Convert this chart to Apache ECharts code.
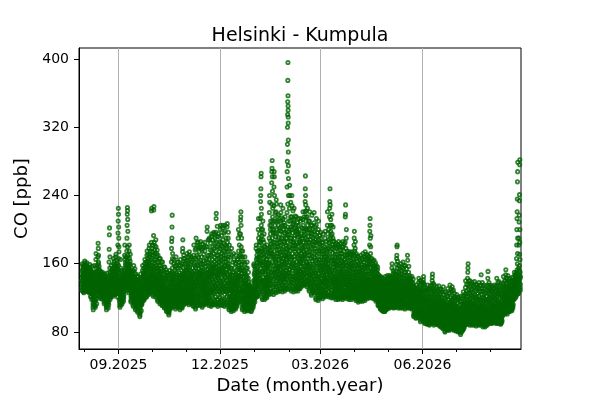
<!DOCTYPE html>
<html>
<head>
<meta charset="utf-8">
<script src="https://cdn.jsdelivr.net/npm/echarts@6/dist/echarts.min.js"></script>
<style>html,body{margin:0;padding:0;background:#fff}#chart{width:600px;height:400px}</style>
</head>
<body>
<div id="chart"></div>
<script>
// CO readings, one block of values every two days starting 30.07.2025
var DAY = 86400000;
var sampleStart = new Date(2025, 6, 30).getTime();
var sampleStepDays = 2;
var coSamples = [
  "140 132 151 160 145 128 137 155 148 134 143 126 157",
  "146 135 129 158 163 142 131 150 139 133 147 137 154",
  "138 130 147 156 161 144 133 152 127 141 135 149 131",
  "134 128 142 155 150 139 126 147 159 131 145 137 152",
  "131 122 140 152 145 127 118 136 157 124 133 143 148",
  "125 112 106 119 138 150 143 130 158 116 133 146 122",
  "118 109 132 148 165 172 155 140 127 113 136 151 123",
  "136 129 150 168 184 178 162 145 131 141 157 134 147",
  "128 121 140 152 146 133 124 149 138 119 135 143 130",
  "125 119 134 146 150 139 129 122 143 131 137 127 141",
  "120 113 131 144 148 137 117 126 141 123 134 129 139",
  "116 106 110 128 142 149 135 122 113 119 131 108 126",
  "124 112 138 162 177 194 202 150 131 118 127 143 121 135",
  "130 121 145 158 152 138 126 147 135 124 141 133 150",
  "134 122 150 166 160 143 128 155 140 125 137 147 131",
  "138 124 155 168 171 149 131 160 145 127 141 152 134",
  "140 126 160 182 196 210 225 218 203 190 174 150 118 133 144 129 137",
  "132 115 109 125 148 165 155 138 121 112 128 142 118 135",
  "126 113 135 150 144 130 118 141 122 116 129 137 124",
  "138 128 152 170 182 165 147 133 158 131 143 136 149",
  "145 135 160 175 190 205 218 226 222 212 198 170 152 139 148 142 157",
  "140 126 155 175 182 166 148 132 160 129 137 144 151",
  "128 115 138 152 145 133 120 148 124 118 131 141 126",
  "122 110 134 152 158 140 126 116 145 113 129 137 120",
  "118 106 128 142 148 135 115 124 138 109 121 131 112",
  "114 103 125 140 145 130 110 120 136 107 117 128 122",
  "110 98 102 122 140 148 132 116 127 105 113 119 124",
  "125 114 138 152 158 143 129 119 148 117 133 122 136",
  "130 118 145 160 165 150 136 124 155 121 139 127 142",
  "135 121 152 170 175 160 141 128 163 125 146 132 138",
  "140 124 160 178 182 168 150 132 171 128 144 137 153",
  "145 126 165 185 222 225 178 155 134 170 129 141 149 138",
  "150 122 170 193 223 227 185 160 135 176 127 143 154 139",
  "145 121 165 188 180 158 136 128 172 124 140 133 151",
  "138 116 155 170 162 147 126 121 150 119 132 143 129",
  "132 113 148 166 158 140 122 118 145 116 127 136 124",
  "128 111 144 162 152 136 119 115 140 113 124 132 121",
  "122 108 134 156 150 130 115 112 140 110 119 127 125",
  "118 104 128 150 145 126 110 106 136 108 114 121 131",
  "115 100 103 122 146 152 132 112 126 107 119 109 137",
  "125 110 140 162 178 186 190 203 217 150 130 116 121 135 144",
  "124 110 142 160 165 148 130 116 137 113 127 120 134",
  "120 107 138 158 168 150 128 113 144 110 124 132 117",
  "126 109 140 162 155 134 117 112 146 114 122 130 137",
  "122 106 136 158 165 146 128 114 140 109 118 125 132",
  "128 108 145 174 178 188 160 135 118 150 112 124 139 131",
  "130 113 148 166 160 140 122 118 152 116 127 135 143",
  "135 114 152 172 164 145 126 120 158 117 131 139 124",
  "132 112 150 170 174 156 138 121 146 115 127 142 134",
  "128 113 146 168 162 150 134 118 140 116 124 131 137",
  "125 110 148 170 182 160 136 115 142 112 121 130 139",
  "130 107 155 178 190 165 140 118 148 111 124 134 143",
  "134 112 158 180 185 168 145 122 150 116 128 139 147",
  "135 111 160 180 186 164 142 124 152 115 129 138 146",
  "132 109 155 178 183 160 140 120 148 113 126 136 144",
  "138 112 160 185 175 152 128 118 146 115 124 133 142",
  "140 113 165 198 203 180 150 125 158 117 131 136 146",
  "142 111 165 188 190 170 148 125 155 116 130 137 153",
  "145 110 170 192 195 175 150 126 160 114 133 139 156",
  "148 112 172 195 197 178 155 128 162 117 135 142 151",
  "150 112 175 197 213 219 185 160 130 165 118 137 144 153",
  "146 110 170 192 195 180 158 128 162 115 134 140 151",
  "150 112 178 200 205 185 160 130 168 117 136 143 155",
  "152 111 180 202 205 188 162 132 170 116 138 146 157",
  "148 110 175 198 205 182 158 128 166 115 134 141 153",
  "150 112 180 203 207 185 160 130 168 118 137 144 155",
  "135 106 160 182 175 150 122 112 145 109 128 139 117",
  "130 104 155 178 170 146 120 110 140 107 125 134 116",
  "126 105 150 172 165 140 116 108 136 111 121 131 145",
  "128 107 148 170 160 138 118 112 140 110 123 133 144",
  "138 114 165 190 200 175 150 125 158 119 131 143 153",
  "145 116 170 195 211 215 221 205 180 155 128 121 137 149 162",
  "132 106 155 175 168 145 120 110 140 113 126 136 148",
  "128 104 150 168 160 140 118 108 135 111 123 131 144",
  "124 105 145 162 155 135 114 108 130 111 119 127 139",
  "118 105 128 135 126 112 108 122 131 115 110 124 119",
  "115 104 125 134 128 110 107 120 132 113 118 123 109",
  "125 112 140 158 160 148 130 118 150 115 128 135 143",
  "138 120 158 178 182 165 145 125 170 122 134 150 141",
  "150 122 175 200 213 190 165 135 182 127 143 158 170",
  "160 125 185 213 233 240 248 262 266 225 200 170 140 132 150 178 193",
  "150 118 175 200 210 188 162 132 180 124 141 155 168",
  "138 118 160 180 174 155 130 122 150 126 134 144 165",
  "142 120 165 182 176 158 134 125 155 129 137 148 169",
  "160 124 190 220 240 232 205 175 140 200 131 150 168 183",
  "175 125 205 230 255 268 272 281 262 245 215 185 140 133 157 167 196",
  "170 124 200 228 250 268 262 240 210 180 145 133 154 163 192",
  "165 126 195 221 235 230 210 180 140 133 152 172 188",
  "155 127 180 205 217 210 190 165 140 134 148 172 195",
  "158 128 185 210 229 220 198 170 142 135 150 163 177",
  "162 127 190 212 225 205 180 150 138 132 145 170 196",
  "160 128 185 205 215 195 170 145 135 131 152 165 178",
  "165 130 190 220 250 268 280 300 320 335 350 375 396 357 345 340 332 325 305 291 275 260 240 210 180 150 138 158 172 198",
  "170 130 195 225 252 240 210 180 145 136 157 186 203",
  "165 128 190 215 240 228 200 172 142 134 152 181 207",
  "160 127 185 210 225 212 190 165 140 133 150 174 198",
  "158 128 182 205 215 200 178 150 138 132 145 168 191",
  "155 128 180 205 213 195 170 145 136 131 151 163 187",
  "160 131 185 210 213 195 172 148 140 135 154 166 178",
  "165 134 190 212 221 205 180 150 142 138 157 171 198",
  "170 135 195 221 233 248 263 240 229 210 185 155 145 139 162 176 201",
  "162 133 188 215 225 205 180 150 140 137 157 170 196",
  "158 128 185 210 221 200 175 145 135 132 152 166 192",
  "150 123 178 205 217 195 168 138 130 127 146 160 186",
  "155 126 182 208 220 198 172 142 134 130 149 164 189",
  "150 118 178 205 213 192 165 135 128 123 143 158 184",
  "145 117 172 200 210 188 160 132 125 121 139 153 180",
  "140 120 165 190 197 178 152 128 158 124 134 146 171",
  "138 119 160 185 195 175 150 126 155 123 132 144 168",
  "142 121 165 190 198 180 155 130 160 125 136 148 172",
  "148 122 175 205 221 195 165 135 160 127 141 153 184",
  "155 121 185 215 225 233 248 229 205 175 140 126 147 163 193",
  "150 120 178 205 218 195 168 135 160 125 142 156 187",
  "140 120 165 186 180 160 138 125 152 129 133 146 171",
  "138 118 160 184 178 155 135 122 150 127 131 144 167",
  "135 118 158 182 186 165 142 124 150 128 131 146 172",
  "136 119 160 184 176 152 132 121 148 126 141 157 168",
  "138 118 162 186 180 158 136 123 150 127 133 145 170",
  "140 120 165 185 215 218 229 178 150 128 124 134 145 158",
  "136 119 158 175 170 150 130 122 145 125 133 141 163",
  "134 118 155 174 168 148 128 121 142 124 131 139 160",
  "135 118 156 174 170 150 130 122 144 126 133 140 162",
  "140 120 165 182 190 198 175 150 128 124 135 144 158",
  "132 117 152 172 166 146 126 120 140 123 129 137 158",
  "128 115 148 168 160 140 122 118 136 120 126 133 154",
  "130 116 150 170 162 142 124 119 138 121 127 135 156",
  "132 116 152 172 165 145 126 120 140 122 129 137 158",
  "134 117 155 174 168 148 128 121 142 124 131 139 160",
  "135 119 155 170 166 148 128 122 142 125 132 139 160",
  "140 120 160 182 198 205 213 190 166 145 128 124 134 152",
  "132 120 150 166 160 142 126 122 138 124 129 135 155",
  "130 119 148 164 158 140 125 121 136 123 128 133 153",
  "128 116 145 158 150 136 122 118 140 120 126 132 148",
  "125 112 138 147 144 130 116 110 134 114 120 127 141",
  "122 108 134 145 140 126 112 106 130 110 116 124 137",
  "118 105 130 143 138 124 110 104 128 107 113 121 134",
  "120 104 132 145 140 126 110 106 130 108 114 123 136",
  "122 107 135 146 142 128 113 108 132 110 117 125 138",
  "124 108 136 146 140 128 114 110 132 112 118 126 139",
  "126 109 140 155 160 145 130 112 120 115 123 133 137",
  "124 108 136 150 144 130 115 110 132 112 119 127 140",
  "128 109 140 151 159 166 170 180 182 145 120 113 124 133 137",
  "126 108 140 158 150 134 116 112 145 114 120 129 137",
  "124 108 138 160 152 132 115 110 144 113 119 127 135",
  "125 108 140 162 155 135 116 111 146 113 120 129 137",
  "122 107 136 158 150 130 114 110 142 112 118 126 133",
  "126 108 140 170 164 145 128 112 135 114 120 131 138",
  "120 108 132 146 140 126 114 110 136 112 117 123 129",
  "118 107 130 145 138 124 112 109 134 111 115 121 127",
  "110 98 118 133 128 115 102 100 122 104 107 113 120",
  "108 96 116 131 135 120 104 99 125 101 106 112 118",
  "112 97 122 138 143 128 106 100 130 103 109 116 125",
  "110 92 120 136 140 124 104 96 128 99 102 107 115",
  "108 93 120 135 138 141 145 126 100 115 97 104 111 118",
  "105 90 116 128 131 120 98 94 122 96 101 109 113",
  "104 89 115 128 135 122 96 92 118 94 100 108 111",
  "106 88 116 130 134 120 98 92 124 95 102 110 113",
  "108 90 120 135 140 144 148 128 100 95 93 104 112 117",
  "104 88 115 128 135 122 96 92 118 94 100 108 111",
  "102 89 112 126 133 120 95 91 116 93 98 106 109",
  "104 88 114 128 134 121 96 90 118 93 100 107 110",
  "102 86 112 125 130 118 94 89 116 91 97 105 108",
  "98 84 110 124 133 116 92 86 112 88 95 103 106",
  "95 80 106 120 127 112 88 83 108 85 91 99 102",
  "96 82 108 122 131 114 90 84 110 87 93 100 104",
  "98 82 110 126 135 116 90 85 112 87 94 102 106",
  "100 84 112 128 133 118 92 86 114 89 96 104 108",
  "96 82 106 120 125 112 88 84 108 86 92 99 102",
  "95 81 105 118 124 110 87 83 106 85 91 98 101",
  "94 80 104 121 118 108 86 82 105 84 90 97 100",
  "92 77 102 116 122 106 84 80 104 82 88 95 98",
  "96 82 108 122 127 112 88 84 110 86 92 100 104",
  "102 88 115 132 140 125 96 90 118 92 99 106 110",
  "108 89 122 143 150 155 160 135 110 95 92 101 114 118",
  "104 88 116 133 140 126 98 92 120 94 101 108 112",
  "100 88 112 130 138 122 95 90 116 92 98 105 108",
  "102 88 114 132 139 124 96 91 118 93 99 106 110",
  "100 87 112 130 136 120 94 90 115 92 97 104 108",
  "101 88 113 131 138 122 95 90 117 92 98 106 109",
  "104 88 116 135 147 128 98 92 120 94 101 108 112",
  "100 86 112 128 135 120 94 89 116 91 97 104 108",
  "98 86 110 126 134 118 92 88 114 90 95 102 106",
  "104 88 118 135 143 151 126 96 92 100 108 112 121",
  "102 90 115 130 135 124 96 92 118 94 99 107 110",
  "100 90 113 128 134 122 95 92 116 93 98 105 109",
  "103 91 116 131 135 124 97 93 119 95 100 108 111",
  "104 90 118 134 143 128 98 93 122 95 101 109 113",
  "102 90 116 132 139 126 96 92 120 94 99 107 111",
  "100 89 114 130 137 124 95 91 118 93 98 106 110",
  "108 100 120 136 145 130 105 102 124 103 111 116 127",
  "110 101 124 140 147 153 132 106 118 104 113 121 128",
  "112 101 125 140 146 132 106 104 120 108 115 118 128",
  "114 104 126 138 143 132 108 106 122 110 117 120 129",
  "116 105 128 140 144 134 110 108 124 112 119 122 131",
  "128 118 138 150 146 134 122 125 142 120 131 136 140",
  "135 122 150 166 182 200 213 221 236 256 268 279 145 128 125 139 142",
  "140 125 155 182 190 209 217 234 241 276 282 165 150 132 129 136 145"
];

// second set of readings for the same two-day blocks
var coSamples2 = [
  "129 136 141 146 153 158 133 139 150 144 127 147",
  "132 138 144 149 156 161 136 141 152 134 145 159",
  "129 134 139 143 150 157 132 137 146 154 142 136",
  "127 133 138 144 149 156 130 136 141 148 153 140",
  "121 126 130 135 141 146 150 125 132 139 144 129",
  "109 114 118 124 128 135 141 148 111 121 127 132",
  "111 116 121 126 131 138 144 150 158 119 129 135",
  "131 137 142 149 155 160 170 133 139 144 152 138",
  "122 126 131 136 141 145 150 125 129 134 139 144",
  "121 124 128 133 136 140 145 148 126 131 135 138",
  "115 119 122 127 133 136 140 145 121 125 130 135",
  "109 112 115 120 124 129 133 138 145 117 123 127",
  "115 120 126 129 134 140 146 155 168 123 132 137",
  "123 128 131 136 140 143 149 154 127 132 137 145",
  "124 129 133 138 142 146 152 158 163 127 135 139",
  "126 130 135 139 143 147 151 157 164 129 137 142",
  "121 127 131 135 141 146 153 158 166 180 125 139",
  "111 114 119 123 127 131 136 140 146 152 117 125",
  "115 119 121 125 128 133 136 139 143 147 120 127",
  "130 134 138 141 145 150 155 161 168 132 139 147",
  "137 141 145 150 155 163 167 180 138 146 153 160",
  "128 131 135 139 142 147 153 158 163 171 133 145",
  "117 121 123 127 130 135 137 143 146 150 119 129",
  "112 115 118 122 124 131 135 139 143 149 154 127",
  "108 111 114 117 119 123 126 130 133 137 141 145",
  "105 109 112 115 119 124 127 132 134 139 142 116",
  "100 104 108 111 115 118 121 126 130 135 144 112",
  "116 119 121 124 127 131 135 140 145 150 155 128",
  "120 123 126 129 133 138 141 147 152 157 162 131",
  "123 126 130 134 137 143 149 155 158 166 171 140",
  "126 130 134 139 142 146 155 158 164 175 135 148",
  "128 131 136 140 144 147 152 158 162 174 182 135",
  "124 129 133 137 141 147 152 157 165 172 181 145",
  "123 126 130 135 138 143 147 154 162 168 176 131",
  "118 123 125 128 134 137 140 145 152 158 166 130",
  "115 119 121 126 129 133 138 143 150 154 162 125",
  "112 117 120 123 127 130 134 138 143 148 156 125",
  "109 113 117 121 123 129 132 137 143 146 153 116",
  "105 109 112 116 119 123 129 133 139 142 147 111",
  "102 105 111 114 117 121 124 129 135 141 149 108",
  "112 118 123 127 133 138 142 147 155 166 172 125",
  "111 115 118 122 125 129 133 139 145 152 157 119",
  "109 112 115 119 122 126 130 135 141 147 155 162",
  "110 115 119 124 127 132 136 139 143 149 158 121",
  "108 111 116 120 123 127 130 134 138 143 152 160",
  "110 115 120 127 133 138 142 147 155 166 170 122",
  "114 120 124 129 132 138 142 146 150 156 163 125",
  "116 119 122 128 133 137 142 149 155 161 168 129",
  "114 118 123 125 130 136 140 144 152 160 166 129",
  "115 120 122 127 129 133 139 143 148 155 165 125",
  "111 117 119 124 128 133 138 145 152 158 166 176",
  "109 114 120 127 131 137 146 151 159 170 185 122",
  "114 119 125 130 136 142 149 154 162 174 179 133",
  "113 118 121 127 133 140 144 149 156 168 176 131",
  "111 116 122 129 133 138 143 151 163 171 180 124",
  "114 120 122 126 130 136 139 149 157 166 180 131",
  "115 120 127 134 139 144 149 153 170 188 123 161",
  "113 119 121 127 133 140 145 151 160 176 184 128",
  "112 117 123 129 136 142 147 155 165 180 188 131",
  "113 119 125 131 138 145 149 158 167 184 190 133",
  "114 121 127 134 140 147 156 170 180 192 204 131",
  "112 118 124 131 137 143 148 154 166 174 186 127",
  "114 120 125 133 139 148 153 164 172 181 193 129",
  "113 119 127 134 141 149 155 166 175 184 196 130",
  "112 118 124 131 137 144 150 162 170 178 190 127",
  "114 121 127 133 141 147 157 165 174 190 197 130",
  "108 111 115 120 125 131 137 142 148 155 168 119",
  "106 109 113 118 122 128 132 137 143 150 162 115",
  "107 110 113 118 124 128 134 138 143 155 160 121",
  "109 114 116 120 126 130 135 142 147 153 165 122",
  "116 121 128 134 140 146 155 162 169 182 195 127",
  "118 124 131 134 141 145 152 159 168 175 190 127",
  "108 112 115 118 123 129 133 138 144 152 162 120",
  "106 110 114 116 121 126 129 134 138 146 155 119",
  "107 110 113 116 121 124 129 133 138 143 150 118",
  "106 109 111 114 117 120 123 127 129 133 113 125",
  "105 108 111 114 116 119 121 126 130 112 117 124",
  "114 117 120 123 126 132 138 141 146 153 156 125",
  "121 124 128 131 137 142 148 153 161 167 175 133",
  "124 130 133 139 146 152 161 168 176 186 195 140",
  "127 136 143 148 155 163 175 188 205 218 138 161",
  "120 127 130 137 144 151 158 166 172 185 195 134",
  "120 124 128 132 137 141 147 153 158 162 170 136",
  "122 127 131 134 140 145 151 157 161 173 178 139",
  "127 134 137 145 155 161 172 180 187 195 210 143",
  "128 136 145 150 162 172 180 190 200 210 225 152",
  "127 136 142 150 158 168 175 185 196 205 220 147",
  "129 136 145 150 157 162 169 176 184 200 215 143",
  "129 137 143 151 157 160 168 177 185 199 202 145",
  "131 139 146 153 156 166 174 182 190 204 214 144",
  "130 136 141 148 155 160 166 175 186 200 208 143",
  "130 138 142 149 155 160 168 174 182 190 200 146",
  "133 142 146 155 162 168 176 185 194 203 230 148",
  "133 140 149 153 162 168 175 190 200 215 232 142",
  "131 138 146 155 160 167 178 185 196 205 222 145",
  "130 137 145 155 160 168 178 182 193 202 216 143",
  "131 135 142 148 155 162 172 185 195 198 208 141",
  "130 134 140 148 153 160 166 175 185 192 200 143",
  "133 138 144 151 157 162 169 176 182 190 202 147",
  "136 141 146 153 160 167 175 185 193 201 215 148",
  "137 143 149 158 166 172 180 190 200 215 222 152",
  "135 139 145 154 160 166 174 185 192 200 210 147",
  "130 137 141 148 155 160 170 180 188 196 205 143",
  "125 132 135 142 148 155 163 173 183 190 200 140",
  "128 133 139 145 152 158 167 178 185 194 203 137",
  "120 126 131 138 146 152 160 170 175 186 197 133",
  "119 123 128 135 142 148 155 165 175 183 193 130",
  "122 126 131 137 143 149 155 161 168 175 185 139",
  "121 125 129 135 140 146 153 158 165 172 180 138",
  "123 127 133 139 144 151 158 163 168 177 186 141",
  "124 130 138 144 150 156 163 170 178 188 200 133",
  "123 131 136 143 151 157 168 180 190 198 212 145",
  "122 129 133 139 146 152 164 173 182 190 203 137",
  "122 127 131 136 142 149 155 163 168 175 182 144",
  "120 124 129 133 138 143 148 158 163 171 180 140",
  "120 126 129 134 139 144 154 160 168 176 180 137",
  "121 124 130 134 138 145 150 154 163 172 180 143",
  "120 125 129 135 140 147 154 160 165 175 183 142",
  "122 127 132 138 142 148 155 162 170 190 200 136",
  "121 124 128 135 138 143 148 153 160 167 172 131",
  "120 123 126 133 136 140 145 152 158 164 171 129",
  "120 125 128 132 137 142 147 153 158 166 172 135",
  "122 126 130 137 141 147 154 160 170 178 186 132",
  "119 122 125 131 134 138 143 150 155 163 169 128",
  "117 121 124 129 131 137 143 151 157 164 130 146",
  "118 122 125 130 133 139 145 152 159 166 129 147",
  "118 121 124 128 133 139 143 149 155 162 168 130",
  "119 123 126 129 135 140 145 151 157 165 171 133",
  "121 124 127 131 135 140 145 151 157 163 168 137",
  "122 126 131 137 142 149 155 163 172 180 193 139",
  "121 124 127 131 134 137 140 146 151 157 163 144",
  "120 124 126 130 132 136 139 145 150 155 161 143",
  "118 121 124 128 130 134 138 142 145 153 156 137",
  "111 115 118 122 124 128 132 136 139 142 145 126",
  "107 110 114 118 120 123 128 132 135 138 143 125",
  "105 108 112 115 117 120 126 130 133 136 141 122",
  "105 109 112 116 118 121 124 128 133 138 142 119",
  "109 111 115 119 121 124 127 130 136 139 144 126",
  "110 113 116 120 122 125 129 134 137 142 144 127",
  "111 114 118 121 126 128 135 139 142 148 152 131",
  "109 113 117 121 123 125 129 134 138 142 147 128",
  "111 116 119 122 127 130 135 141 148 155 163 126",
  "110 113 117 122 124 127 132 136 142 147 154 130",
  "109 112 117 121 123 126 130 133 140 148 156 128",
  "110 114 118 122 124 127 131 139 143 150 158 133",
  "109 113 115 120 123 128 132 137 140 146 154 125",
  "110 113 116 122 124 127 133 137 142 150 157 129",
  "109 111 115 119 121 124 128 131 134 139 143 127",
  "108 110 113 117 119 122 126 129 132 137 142 124",
  "99 101 103 106 109 111 116 118 124 126 130 112",
  "97 100 102 105 108 110 114 117 122 128 132 111",
  "98 101 104 107 111 114 118 121 127 133 140 120",
  "94 97 100 105 109 112 117 122 126 131 138 101",
  "95 98 102 106 109 113 117 122 128 132 136 103",
  "91 93 97 100 103 107 111 115 118 125 129 102",
  "90 93 95 98 102 106 110 113 117 124 131 101",
  "89 91 94 97 100 104 108 112 118 126 131 101",
  "91 94 97 99 102 106 110 115 122 130 137 107",
  "90 93 95 98 101 105 110 113 117 124 130 102",
  "90 92 94 97 100 103 108 111 115 122 128 101",
  "89 92 94 98 101 103 108 112 116 124 130 105",
  "87 90 92 95 99 101 106 110 114 120 127 103",
  "85 87 90 93 97 99 104 107 114 119 127 101",
  "81 84 86 89 93 96 100 104 110 115 122 97",
  "83 85 88 91 95 97 102 106 112 118 125 99",
  "83 86 89 92 96 99 104 108 114 120 130 101",
  "85 88 90 94 98 101 106 110 116 122 129 103",
  "83 85 87 90 94 97 101 104 110 116 121 100",
  "82 84 86 89 93 96 100 103 108 114 120 99",
  "81 83 85 88 92 95 99 102 107 112 116 98",
  "79 81 83 86 90 93 97 100 108 112 119 96",
  "83 85 89 90 94 98 102 106 114 117 123 101",
  "89 91 94 97 101 104 108 112 121 128 136 105",
  "91 93 97 100 104 107 112 116 125 130 140 106",
  "90 93 95 99 103 106 110 114 123 129 136 104",
  "89 91 94 97 100 103 110 114 120 126 134 102",
  "90 92 95 98 101 104 108 113 121 128 135 103",
  "89 91 93 96 100 102 106 110 118 125 132 99",
  "89 91 94 97 100 103 108 111 119 127 134 104",
  "90 93 96 99 103 106 110 114 124 131 138 105",
  "88 90 93 95 99 101 106 110 118 124 131 102",
  "87 89 91 94 97 100 104 108 116 122 129 99",
  "90 94 98 102 105 110 115 118 128 132 138 106",
  "91 93 95 97 101 104 109 113 121 127 132 102",
  "91 93 96 99 102 104 108 111 119 126 131 101",
  "92 94 96 99 102 105 110 114 122 128 133 103",
  "91 94 97 100 103 106 111 116 125 130 138 104",
  "91 93 95 98 101 105 109 114 123 129 135 102",
  "90 92 94 97 100 103 108 112 121 127 133 101",
  "101 104 106 109 113 118 121 126 131 134 140 115",
  "102 105 108 111 115 119 123 126 134 137 143 117",
  "103 105 107 110 113 117 121 123 130 135 142 119",
  "105 107 109 112 115 118 121 125 130 134 139 119",
  "106 109 111 114 117 120 123 127 132 137 141 121",
  "119 121 124 126 129 133 137 139 143 145 148 132",
  "124 127 131 134 137 141 148 153 160 172 190 143",
  "127 130 134 138 141 147 152 158 171 185 200 143"
];

var yTicks = [80, 160, 240, 320, 400];
var majorTicks = ['2025-09-01', '2025-12-01', '2026-03-01', '2026-06-01'];
var minorTicks = ['2025-08-01', '2025-09-01', '2025-10-01', '2025-11-01', '2025-12-01', '2026-01-01',
  '2026-02-01', '2026-03-01', '2026-04-01', '2026-05-01', '2026-06-01', '2026-07-01', '2026-08-01'];
var axisStart = '2025-07-27 12:00';
var axisEnd = '2026-08-28 10:00';

function ts(s) {
  var p = s.split(/[- :]/);
  return new Date(+p[0], p[1] - 1, +p[2], +(p[3] || 0), +(p[4] || 0)).getTime();
}

// spread each block's readings over its two days
var points = [];
coSamples.forEach(function (row, k) {
  var a = row.split(' ').map(Number);
  var b = coSamples2[k].split(' ').map(Number);
  var vals = [];
  for (var i = 0; i < Math.max(a.length, b.length); i++) {
    if (i < a.length) vals.push(a[i]);
    if (i < b.length) vals.push(b[i]);
  }
  vals.forEach(function (v, i) {
    points.push([sampleStart + (k * sampleStepDays + i / vals.length * sampleStepDays) * DAY, v]);
  });
});

var font = 'DejaVu Sans';
var chart = echarts.init(document.getElementById('chart'));
var option = {
  animation: false,
  title: {
    text: 'Helsinki - Kumpula',
    left: 'center',
    top: 22,
    textStyle: { fontFamily: font, fontSize: 19, fontWeight: 'normal', color: '#000' }
  },
  grid: {
    left: 79, right: 79, top: 48, bottom: 51,
    show: true, borderColor: '#000', borderWidth: 1
  },
  xAxis: [
    {
      type: 'value',
      min: ts(axisStart),
      max: ts(axisEnd),
      position: 'bottom',
      name: 'Date (month.year)',
      nameLocation: 'middle',
      nameGap: 27,
      nameTextStyle: { fontFamily: font, fontSize: 18, color: '#000' },
      axisLine: { show: true, lineStyle: { color: '#000', width: 1 } },
      axisTick: { show: true, length: 5, lineStyle: { color: '#000' }, customValues: majorTicks.map(ts) },
      axisLabel: {
        fontFamily: font, fontSize: 14, color: '#000', margin: 9,
        customValues: majorTicks.map(ts),
        formatter: function (v) {
          var d = new Date(v);
          return ('0' + (d.getMonth() + 1)).slice(-2) + '.' + d.getFullYear();
        }
      },
      splitLine: { show: true, lineStyle: { color: '#b0b0b0', width: 1 } }
    },
    {
      type: 'value',
      min: ts(axisStart),
      max: ts(axisEnd),
      position: 'bottom',
      axisLine: { show: false },
      axisTick: { show: true, length: 3, lineStyle: { color: '#000' }, customValues: minorTicks.map(ts) },
      axisLabel: { show: false },
      splitLine: { show: false }
    }
  ],
  yAxis: {
    type: 'value',
    min: 60,
    max: 413,
    name: 'CO [ppb]',
    nameLocation: 'middle',
    nameRotate: 90,
    nameGap: 46,
    nameTextStyle: { fontFamily: font, fontSize: 18, color: '#000' },
    axisLine: { show: true, lineStyle: { color: '#000', width: 1 } },
    axisTick: { show: true, length: 5, lineStyle: { color: '#000' }, customValues: yTicks },
    axisLabel: { fontFamily: font, fontSize: 14, color: '#000', margin: 10, customValues: yTicks },
    splitLine: { show: false }
  },
  series: [{
    type: 'scatter',
    xAxisIndex: 0,
    symbol: 'circle',
    symbolSize: 3.3,
    progressive: 0,
    itemStyle: { color: 'rgba(0,0,0,0)', borderColor: '#006400', borderWidth: 1.8 },
    data: points
  }]
};
chart.setOption(option);
</script>
</body>
</html>
